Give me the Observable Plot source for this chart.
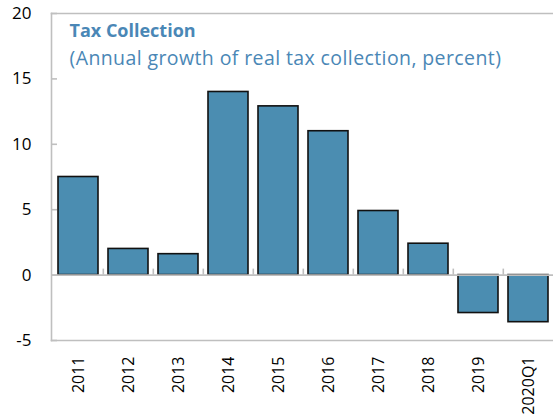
<!DOCTYPE html>
<html>
<head>
<meta charset="utf-8">
<script src="https://cdn.jsdelivr.net/npm/d3@7"></script>
<script src="https://cdn.jsdelivr.net/npm/@observablehq/plot@0.6"></script>
<style>
  html, body { margin: 0; padding: 0; background: #fff; }
  #chart { width: 553px; height: 418px; }
  .subtitle text { letter-spacing: 0.4px; }
</style>
</head>
<body>
<div id="chart"></div>
<script>
const categories = ["2011", "2012", "2013", "2014", "2015", "2016", "2017", "2018", "2019", "2020Q1"];
const growth = [7.5, 2.0, 1.6, 14.0, 12.9, 11.0, 4.9, 2.4, -2.9, -3.6];
const yTicks = [-5, 0, 5, 10, 15, 20];
const title = "Tax Collection";
const subtitle = "(Annual growth of real tax collection, percent)";

const data = categories.map((c, i) => ({year: c, value: growth[i]}));

const W = 553, H = 418;
const mL = 51, mR = 0, mT = 13, mB = 78;
const xRange = [51, 555];
const step = (xRange[1] - xRange[0]) / categories.length;
const pxPerUnit = (H - mT - mB) / (yTicks[yTicks.length - 1] - yTicks[0]);
const tickLen = 6 / pxPerUnit;
const gray = "#bfbfbf";
const blue = "#4b8db1";
const titleColor = "#4a87b6";
const font = "'Open Sans', 'Noto Sans', sans-serif";

const chart = Plot.plot({
  width: W,
  height: H,
  marginLeft: mL,
  marginRight: mR,
  marginTop: mT,
  marginBottom: mB,
  style: {fontFamily: font, background: "#fff"},
  x: {domain: categories, paddingInner: 0.2, paddingOuter: 0.1, range: xRange},
  y: {domain: [yTicks[0], yTicks[yTicks.length - 1]]},
  marks: [
    Plot.barY(data, {x: "year", y: "value", fill: blue, stroke: "#111", strokeWidth: 1.6}),
    Plot.ruleY([0], {stroke: gray, strokeWidth: 1.6}),
    Plot.ruleX(categories.slice(1), {x: d => d, y1: 0, y2: tickLen, dx: -step / 2, stroke: gray, strokeWidth: 1.6}),
    Plot.frame({anchor: "top", stroke: gray, strokeWidth: 1.6}),
    Plot.frame({anchor: "bottom", stroke: gray, strokeWidth: 1.6}),
    Plot.frame({anchor: "left", stroke: gray, strokeWidth: 1.6}),
    Plot.axisY(yTicks, {tickSize: -6, fill: "none", stroke: gray, strokeWidth: 1.6, label: null}),
    Plot.axisY(yTicks, {tickSize: 0, tickPadding: 20, fill: "#000", fontSize: 17, label: null, tickFormat: d => String(d)}),
    Plot.axisX({anchor: "bottom", tickSize: 0, tickRotate: -90, tickPadding: 16, fill: "#000", fontSize: 16, label: null}),
    Plot.text([title], {text: d => d, frameAnchor: "top-left", dx: 18, dy: 11, fill: titleColor, fontSize: 18, fontWeight: "bold", textAnchor: "start"}),
    Plot.text([subtitle], {text: d => d, frameAnchor: "top-left", dx: 18, dy: 38, fill: titleColor, fontSize: 19.5, textAnchor: "start", className: "subtitle"})
  ]
});
document.getElementById("chart").appendChild(chart);
</script>
</body>
</html>
